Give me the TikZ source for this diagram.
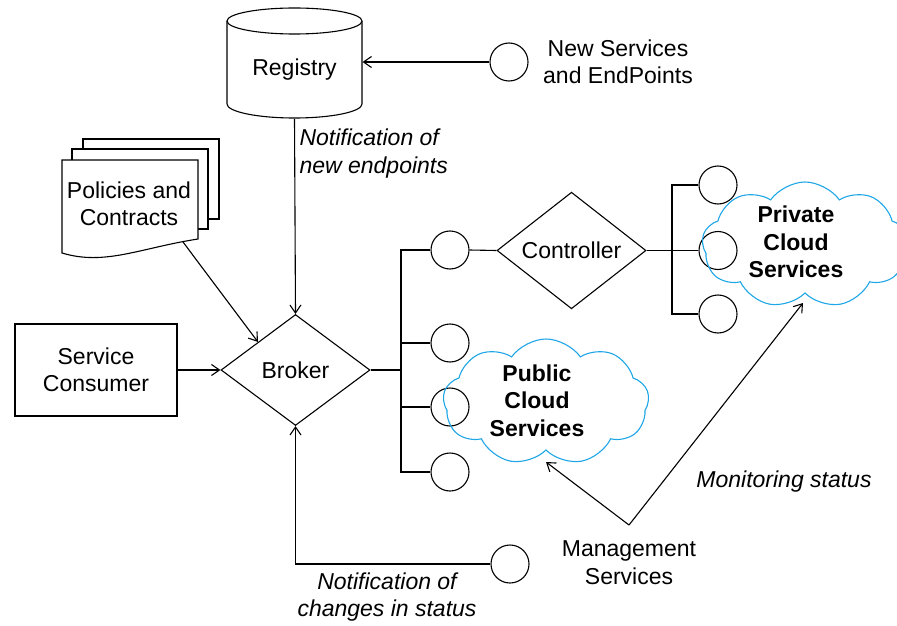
\documentclass[tikz,border=0pt]{standalone}
\usepackage{fontspec}
\setmainfont{Liberation Sans}
\usetikzlibrary{shapes.geometric,shapes.symbols,arrows.meta}
\definecolor{cloudblue}{RGB}{30,166,230}
\begin{document}
\begin{tikzpicture}[x=1pt,y=-1pt,line width=1.1pt,
  >={Straight Barb[length=8pt,width=11pt]},
  txt/.style={font=\fontsize{23}{27.5}\selectfont,align=center,inner sep=0pt},
  itxt/.style={txt,font=\fontsize{23}{27.5}\selectfont\itshape},
  btxt/.style={txt,font=\fontsize{23}{27.5}\selectfont\bfseries},
  port/.style={circle,draw,fill=white,minimum size=38pt,inner sep=0pt},
  decision/.style={diamond,draw,fill=white,inner sep=0pt,txt},
  sky/.style={cloud,draw=cloudblue,cloud puffs=9,cloud puff arc=110,
    cloud ignores aspect,inner sep=0pt},
  bus/.style={line width=1.1pt}]
\useasboundingbox (0,0) rectangle (897,626);

% registry (cylinder)
\draw[fill=white] (227,21) -- (227,104)
  arc[start angle=180,end angle=360,x radius=67.5pt,y radius=14pt] -- (362,21);
\draw[fill=white] (294.5,21) ellipse[x radius=67.5pt,y radius=13pt];
\node[txt,minimum width=135pt,minimum height=97pt] (reg) at (294.5,70) {Registry};

% new services endpoint
\node[port] (ns) at (509,62) {};
\node[txt] (nstext) at (618,62) {New Services\\and EndPoints};
\draw[->] (ns.west) -- (reg.east |- ns.west);

% policies and contracts (stacked documents)
\draw[fill=white] (83,139) rectangle (219,219);
\draw[fill=white] (72,149) rectangle (208,229);
\draw[fill=white] (62,160) -- (198,160) -- (198,239)
  .. controls (140,248) and (105,266) .. (62,253) -- cycle;
\node[txt] (pol) at (129,204) {Policies and\\Contracts};
\coordinate (polout) at (183,242);

% broker, consumer
\node[decision,minimum width=149pt,minimum height=111pt] (broker) at (295.5,370) {Broker};
\node[txt,draw,minimum width=162pt,minimum height=92pt] (cons) at (96,370) {Service\\Consumer};
\draw[->] (cons.east) -- (broker.west);
\draw[->] (polout) -- (broker.north west);
\draw[->] (reg.south) -- (broker.north);
\node[itxt,anchor=west,align=left] (notif1) at (299,153.5) {Notification of\\new endpoints};

% bus from broker to the service ports
\coordinate (busmid) at (401,370);
\node[port] (p1) at (450,250) {};
\node[port] (p2) at (450,343) {};
\node[port] (p3) at (450,407) {};
\node[port] (p4) at (450,472) {};
\draw[line width=2pt] (broker.east) -- (busmid);
\draw[bus] (p1.west) -| (busmid) |- (p4.west);
\draw[bus] (busmid |- p2.west) -- (p2.west);
\draw[bus] (busmid |- p3.west) -- (p3.west);

% controller and private ports
\node[decision,minimum width=149pt,minimum height=113pt] (ctrl) at (571.5,250.5) {Controller};
\draw (p1.east) -- (ctrl.west);
\coordinate (bus2) at (672,250.5);
\node[port] (q1) at (718,185) {};
\node[port] (q2) at (718,250.5) {};
\node[port] (q3) at (718,314) {};
\draw (ctrl.east) -- (q2.west);
\draw (q1.west) -| (bus2) |- (q3.west);

% clouds
\node[sky,minimum width=206pt,minimum height=126pt] (priv) at (805,245) {};
\node[btxt] (privtext) at (796,242) {Private\\Cloud\\Services};
\node[sky,minimum width=206pt,minimum height=126pt] (pub) at (546,402) {};
\node[btxt] (pubtext) at (537,400.5) {Public\\Cloud\\Services};

% management services
\node[txt] (mgmt) at (629,562.5) {Management\\Services};
\coordinate (apex) at (629,525);
\coordinate (pubin) at (546,462);
\coordinate (privin) at (803,303);
\draw[->] (apex) -- (pubin);
\draw[->] (apex) -- (privin);
\node[itxt] (mon) at (784,482) {Monitoring status};

% status notifications back to the broker
\node[port] (st) at (510,564) {};
\draw[->] (st.west) -| (broker.south);
\node[itxt] (notif2) at (387,597) {Notification of\\changes in status};
\end{tikzpicture}
\end{document}
